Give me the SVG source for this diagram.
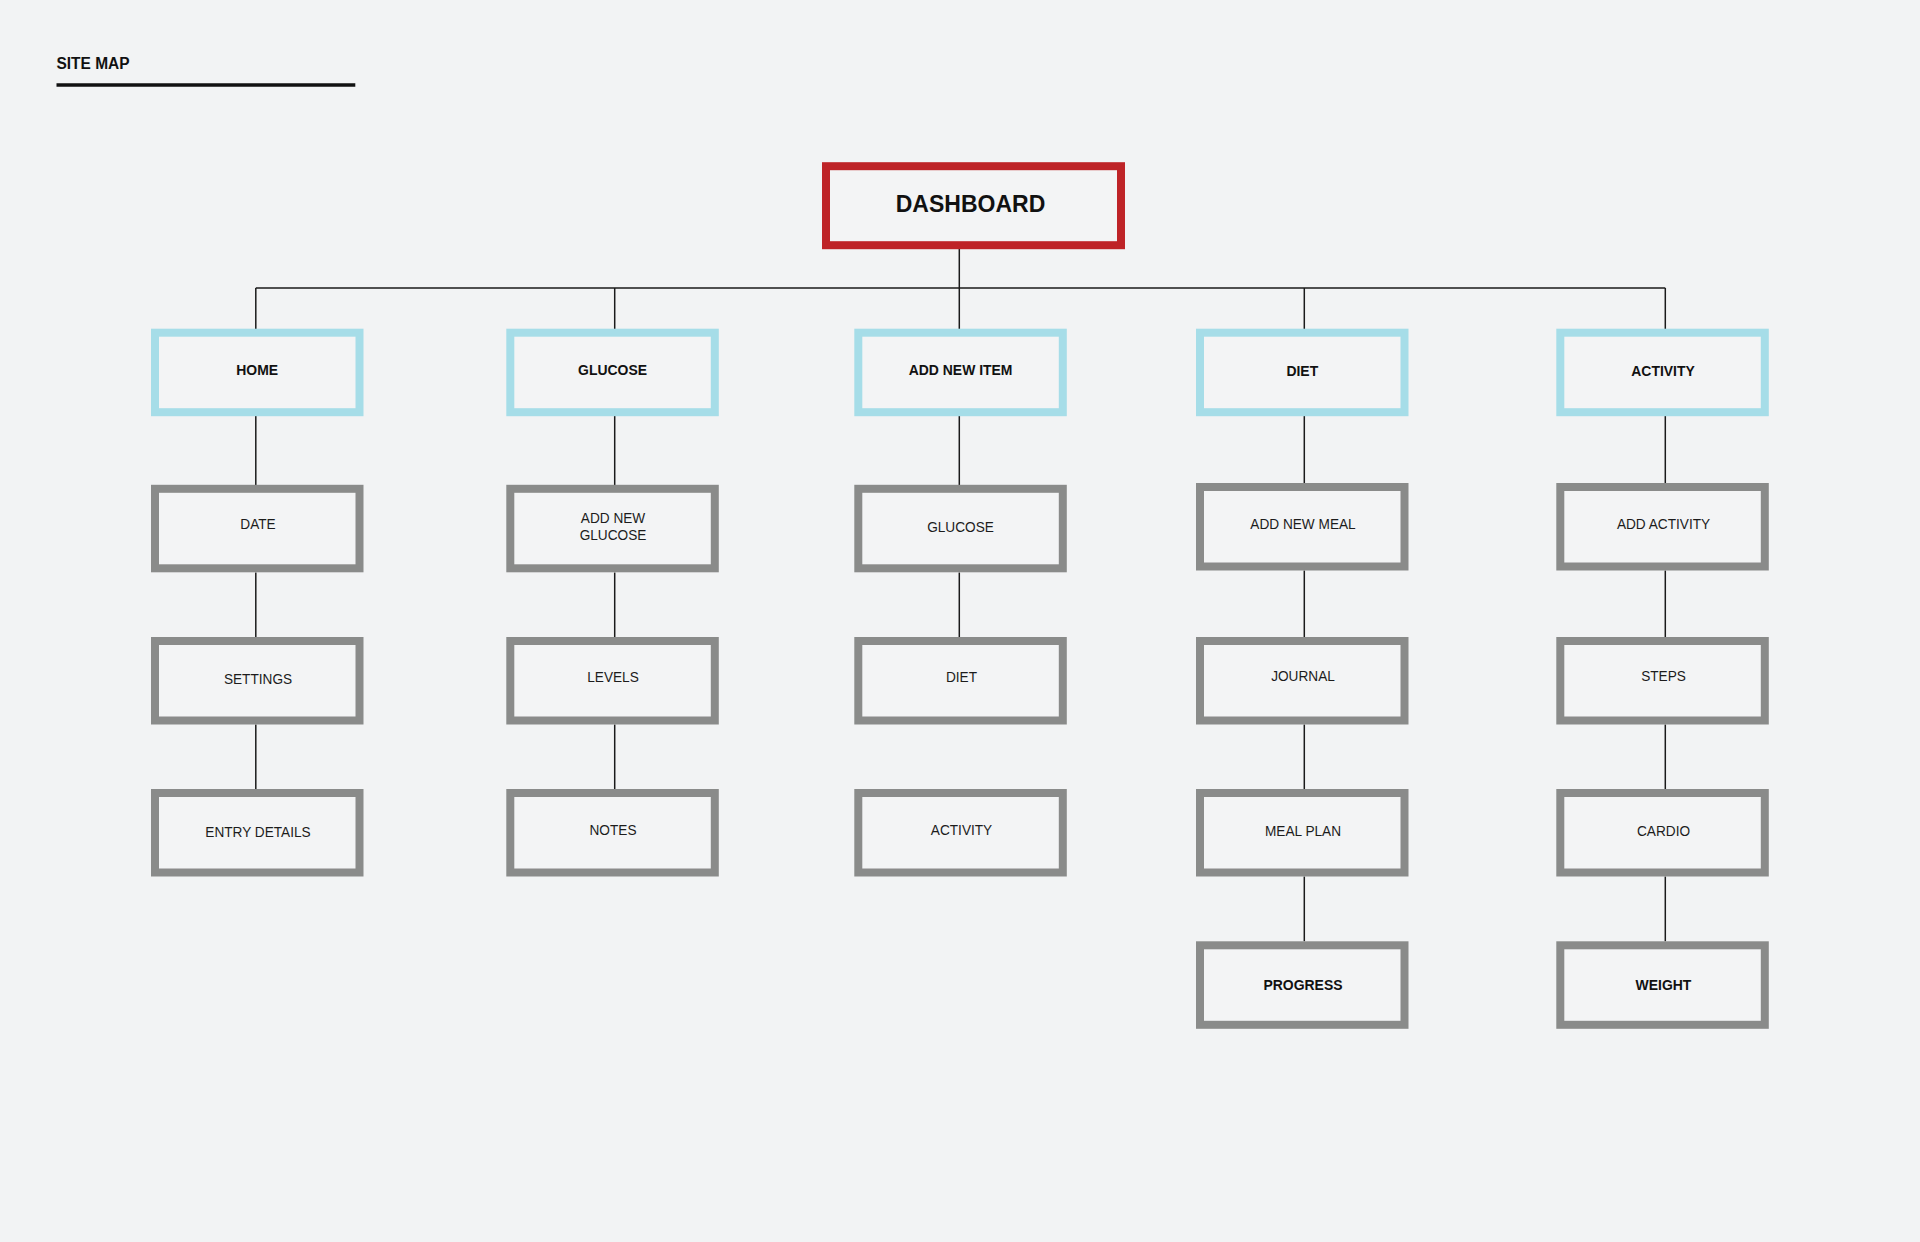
<svg xmlns="http://www.w3.org/2000/svg" width="1920" height="1242" viewBox="0 0 1920 1242">
  <style>
    .bg { fill: #f2f3f4; }
    .box { fill: #f3f4f5; stroke-width: 8; }
    .root { stroke: #be2327; }
    .main { stroke: #a6dde8; }
    .sub { stroke: #8a8b8a; }
    .conn { stroke: #1a1a1a; stroke-width: 1.5; fill: none; }
    .t { font-family: "Liberation Sans", Arial, sans-serif; text-anchor: middle; fill: #111; }
    .tb { font-size: 15.5px; font-weight: bold; }
    .tr { font-size: 15px; font-weight: normal; fill: #1c1c1c; }
    .title { font-family: "Liberation Sans", Arial, sans-serif; font-size: 17px; font-weight: bold; fill: #111; }
  </style>
  <rect class="bg" x="0" y="0" width="1920" height="1242"/>

  <g id="header">
    <text class="title" transform="translate(56.5 69) scale(0.91 1)">SITE MAP</text>
    <line x1="56.5" y1="85" x2="355.3" y2="85" stroke="#111" stroke-width="3.3"/>
  </g>

  <g id="connectors">
    <line class="conn" x1="959.3" y1="249" x2="959.3" y2="288"/>
    <line class="conn" x1="255.8" y1="288" x2="1665.3" y2="288"/>
    <line class="conn" x1="255.8" y1="288" x2="255.8" y2="329"/>
    <line class="conn" x1="614.7" y1="288" x2="614.7" y2="329"/>
    <line class="conn" x1="959.3" y1="288" x2="959.3" y2="329"/>
    <line class="conn" x1="1304.3" y1="288" x2="1304.3" y2="329"/>
    <line class="conn" x1="1665.3" y1="288" x2="1665.3" y2="329"/>
    <!-- col 1 -->
    <line class="conn" x1="255.8" y1="416" x2="255.8" y2="485"/>
    <line class="conn" x1="255.8" y1="572.5" x2="255.8" y2="637"/>
    <line class="conn" x1="255.8" y1="724.5" x2="255.8" y2="789"/>
    <!-- col 2 -->
    <line class="conn" x1="614.7" y1="416" x2="614.7" y2="485"/>
    <line class="conn" x1="614.7" y1="572.5" x2="614.7" y2="637"/>
    <line class="conn" x1="614.7" y1="724.5" x2="614.7" y2="789"/>
    <!-- col 3 -->
    <line class="conn" x1="959.3" y1="416" x2="959.3" y2="485"/>
    <line class="conn" x1="959.3" y1="572.5" x2="959.3" y2="637"/>
    <!-- col 4 -->
    <line class="conn" x1="1304.3" y1="416" x2="1304.3" y2="483"/>
    <line class="conn" x1="1304.3" y1="570.5" x2="1304.3" y2="637"/>
    <line class="conn" x1="1304.3" y1="724.5" x2="1304.3" y2="789"/>
    <line class="conn" x1="1304.3" y1="876.5" x2="1304.3" y2="941.3"/>
    <!-- col 5 -->
    <line class="conn" x1="1665.3" y1="416" x2="1665.3" y2="483"/>
    <line class="conn" x1="1665.3" y1="570.5" x2="1665.3" y2="637"/>
    <line class="conn" x1="1665.3" y1="724.5" x2="1665.3" y2="789"/>
    <line class="conn" x1="1665.3" y1="876.5" x2="1665.3" y2="941.3"/>
  </g>

  <g id="dashboard">
    <rect class="box root" x="826" y="166.2" width="295" height="79"/>
    <text class="t" x="970.5" y="212" font-size="23" font-weight="bold">DASHBOARD</text>
  </g>

  <!-- Column 1 -->
  <g id="home">
    <rect class="box main" x="155" y="332.7" width="204.5" height="79.5"/>
    <text class="t tb" transform="translate(257.2 374.6) scale(0.9 1)">HOME</text>
  </g>
  <g id="date">
    <rect class="box sub" x="155" y="488.8" width="204.5" height="79.5"/>
    <text class="t tr" transform="translate(258 529) scale(0.91 1)">DATE</text>
  </g>
  <g id="settings">
    <rect class="box sub" x="155" y="641" width="204.5" height="79.5"/>
    <text class="t tr" transform="translate(258 683.5) scale(0.91 1)">SETTINGS</text>
  </g>
  <g id="entry-details">
    <rect class="box sub" x="155" y="793" width="204.5" height="79.5"/>
    <text class="t tr" transform="translate(258 837) scale(0.91 1)">ENTRY DETAILS</text>
  </g>

  <!-- Column 2 -->
  <g id="glucose">
    <rect class="box main" x="510.3" y="332.7" width="204.5" height="79.5"/>
    <text class="t tb" transform="translate(612.5 374.6) scale(0.9 1)">GLUCOSE</text>
  </g>
  <g id="add-new-glucose">
    <rect class="box sub" x="510.3" y="488.8" width="204.5" height="79.5"/>
    <text class="t tr" transform="translate(613 523) scale(0.91 1)">ADD NEW</text>
    <text class="t tr" transform="translate(613 540.3) scale(0.91 1)">GLUCOSE</text>
  </g>
  <g id="levels">
    <rect class="box sub" x="510.3" y="641" width="204.5" height="79.5"/>
    <text class="t tr" transform="translate(613 681.5) scale(0.91 1)">LEVELS</text>
  </g>
  <g id="notes">
    <rect class="box sub" x="510.3" y="793" width="204.5" height="79.5"/>
    <text class="t tr" transform="translate(613 835) scale(0.91 1)">NOTES</text>
  </g>

  <!-- Column 3 -->
  <g id="add-new-item">
    <rect class="box main" x="858.3" y="332.7" width="204.5" height="79.5"/>
    <text class="t tb" transform="translate(960.6 374.6) scale(0.9 1)">ADD NEW ITEM</text>
  </g>
  <g id="item-glucose">
    <rect class="box sub" x="858.3" y="488.8" width="204.5" height="79.5"/>
    <text class="t tr" transform="translate(960.5 531.5) scale(0.91 1)">GLUCOSE</text>
  </g>
  <g id="item-diet">
    <rect class="box sub" x="858.3" y="641" width="204.5" height="79.5"/>
    <text class="t tr" transform="translate(961.5 681.5) scale(0.91 1)">DIET</text>
  </g>
  <g id="item-activity">
    <rect class="box sub" x="858.3" y="793" width="204.5" height="79.5"/>
    <text class="t tr" transform="translate(961.5 835) scale(0.91 1)">ACTIVITY</text>
  </g>

  <!-- Column 4 -->
  <g id="diet">
    <rect class="box main" x="1200" y="332.7" width="204.5" height="79.5"/>
    <text class="t tb" transform="translate(1302.3 375.5) scale(0.9 1)">DIET</text>
  </g>
  <g id="add-new-meal">
    <rect class="box sub" x="1200" y="487" width="204.5" height="79.5"/>
    <text class="t tr" transform="translate(1303 529.2) scale(0.91 1)">ADD NEW MEAL</text>
  </g>
  <g id="journal">
    <rect class="box sub" x="1200" y="641" width="204.5" height="79.5"/>
    <text class="t tr" transform="translate(1303 681.4) scale(0.91 1)">JOURNAL</text>
  </g>
  <g id="meal-plan">
    <rect class="box sub" x="1200" y="793" width="204.5" height="79.5"/>
    <text class="t tr" transform="translate(1303 836) scale(0.91 1)">MEAL PLAN</text>
  </g>
  <g id="progress">
    <rect class="box sub" x="1200" y="945.3" width="204.5" height="79.5"/>
    <text class="t tb" transform="translate(1303 989.5) scale(0.9 1)">PROGRESS</text>
  </g>

  <!-- Column 5 -->
  <g id="activity">
    <rect class="box main" x="1560.3" y="332.7" width="204.5" height="79.5"/>
    <text class="t tb" transform="translate(1663 375.5) scale(0.9 1)">ACTIVITY</text>
  </g>
  <g id="add-activity">
    <rect class="box sub" x="1560.3" y="487" width="204.5" height="79.5"/>
    <text class="t tr" transform="translate(1663.5 529.4) scale(0.91 1)">ADD ACTIVITY</text>
  </g>
  <g id="steps">
    <rect class="box sub" x="1560.3" y="641" width="204.5" height="79.5"/>
    <text class="t tr" transform="translate(1663.5 681.3) scale(0.91 1)">STEPS</text>
  </g>
  <g id="cardio">
    <rect class="box sub" x="1560.3" y="793" width="204.5" height="79.5"/>
    <text class="t tr" transform="translate(1663.5 836) scale(0.91 1)">CARDIO</text>
  </g>
  <g id="weight">
    <rect class="box sub" x="1560.3" y="945.3" width="204.5" height="79.5"/>
    <text class="t tb" transform="translate(1663.5 989.5) scale(0.9 1)">WEIGHT</text>
  </g>
</svg>
